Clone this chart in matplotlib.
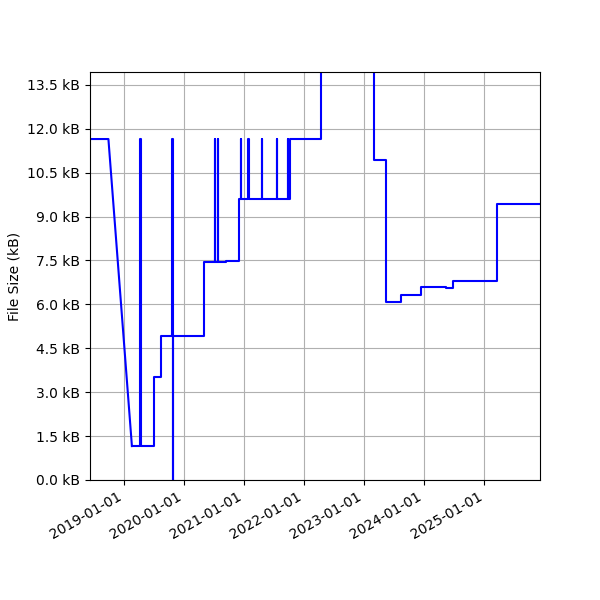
import matplotlib
matplotlib.use("Agg")
import matplotlib.pyplot as plt
import matplotlib.dates as mdates
from matplotlib.ticker import FuncFormatter, MultipleLocator
import numpy as np

# Early history (drawn as a plain line)
early_dates = ["2018-06-08", "2018-09-28", "2019-02-18"]
early_sizes_kb = [11.65, 11.65, 1.16]

# Later history (drawn as steps)
step_dates = [
    "2019-02-18", "2019-04-09", "2019-04-13", "2019-07-04", "2019-08-14",
    "2019-10-22", "2019-10-24", "2019-10-26", "2020-05-03", "2020-07-07",
    "2020-07-08", "2020-07-27", "2020-07-28", "2020-09-11", "2020-12-01",
    "2020-12-11", "2020-12-12", "2021-01-27", "2021-01-28", "2021-04-17",
    "2021-04-18", "2021-07-17", "2021-07-18", "2021-09-22", "2021-09-23",
    "2021-10-04", "2022-04-12", "2023-03-02", "2023-05-13", "2023-08-12",
    "2023-12-14", "2024-05-14", "2024-06-24", "2025-03-19", "2025-12-06",
]
step_sizes_kb = [
    1.16, 11.65, 1.16, 3.52, 4.93,
    11.65, 0.0, 4.93, 7.44, 11.65,
    7.44, 11.65, 7.44, 7.48, 9.59,
    11.65, 9.59, 11.65, 9.59, 11.65,
    9.59, 11.65, 9.59, 11.65, 9.59,
    11.65, 20.0, 10.94, 6.09, 6.32,
    6.59, 6.55, 6.81, 9.43, 9.43,
]

x_start, x_end = "2018-06-08", "2025-12-06"
y_max = 13.94

fig = plt.figure(figsize=(6, 6), dpi=100)
ax = fig.add_subplot(111)

ed = np.array(early_dates, dtype="datetime64[D]").astype("datetime64[ns]")
sd = np.array(step_dates, dtype="datetime64[D]").astype("datetime64[ns]")
ax.plot(ed, early_sizes_kb, color="blue", linewidth=1.5)
ax.plot(sd, step_sizes_kb, color="blue", linewidth=1.5, drawstyle="steps-post")

ax.set_xlim(np.datetime64(x_start), np.datetime64(x_end))
ax.set_ylim(0, y_max)
ax.yaxis.set_major_locator(MultipleLocator(1.5))
ax.yaxis.set_major_formatter(FuncFormatter(lambda v, p: f"{v:.1f} kB"))
ax.xaxis.set_major_locator(mdates.YearLocator())
ax.xaxis.set_major_formatter(mdates.DateFormatter("%Y-%m-%d"))
ax.set_ylabel("File Size (kB)")
ax.grid(True)
fig.autofmt_xdate()
fig.subplots_adjust(left=0.15, right=0.9, top=0.88, bottom=0.2)

fig.savefig("out.png", dpi=100)
